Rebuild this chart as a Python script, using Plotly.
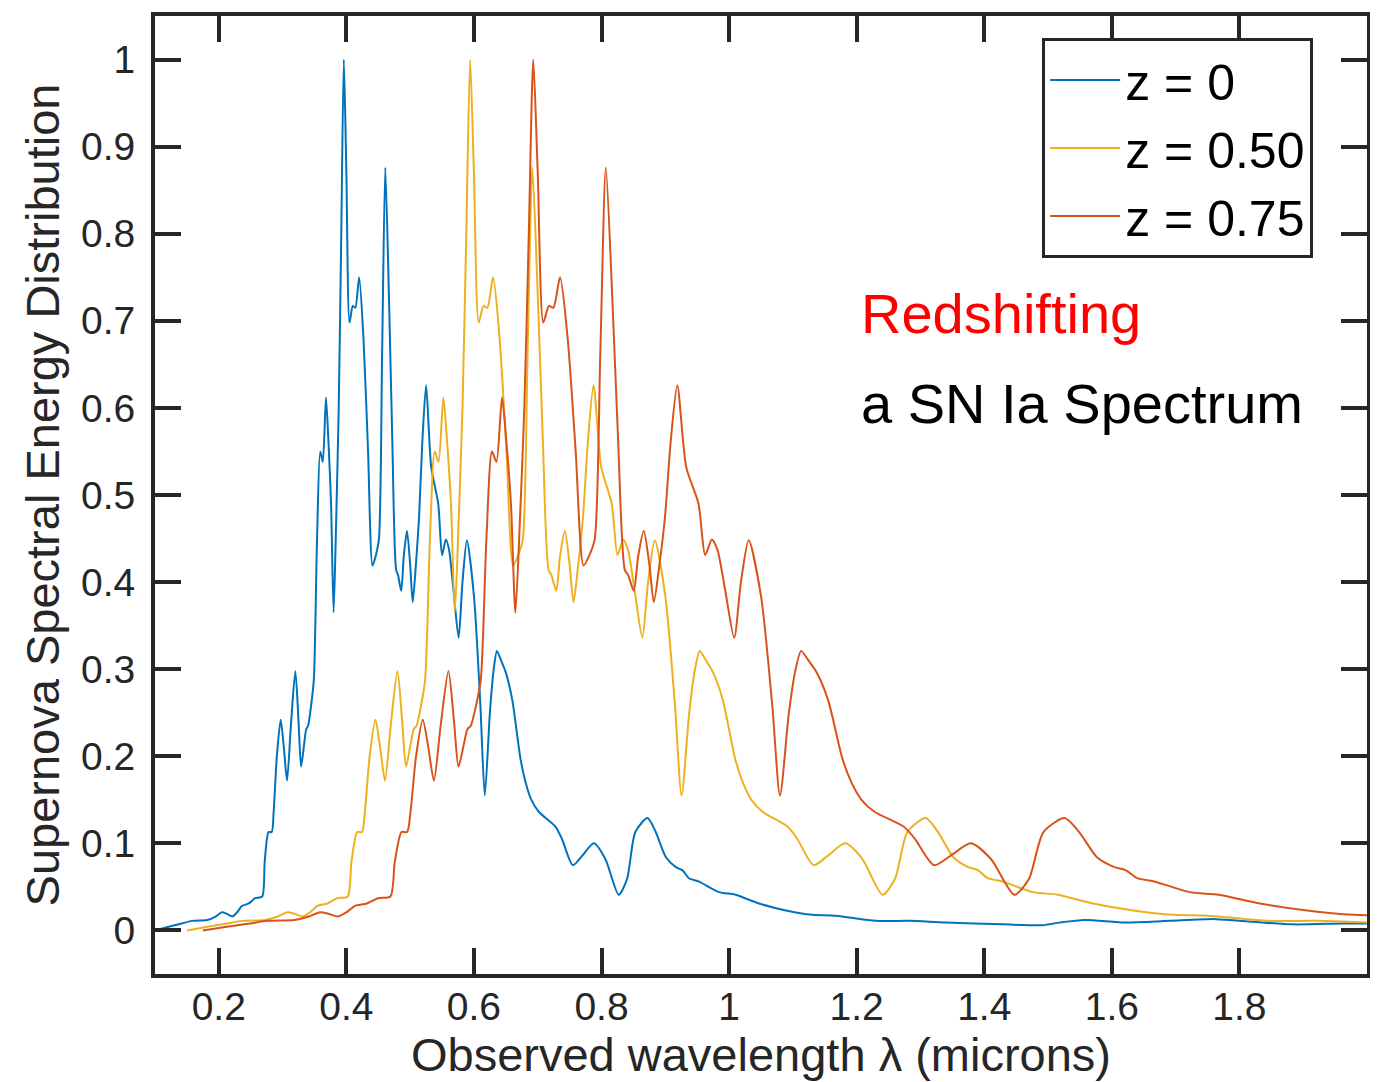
import plotly.graph_objects as go

# Rest-frame (z = 0) SN Ia spectrum
REST_WL = [0.100, 0.120, 0.142, 0.158, 0.182, 0.195, 0.205, 0.213, 0.221, 0.230,
           0.236, 0.247, 0.257, 0.268, 0.272, 0.278, 0.283, 0.286, 0.291, 0.297,
           0.302, 0.307, 0.313, 0.320, 0.325, 0.329, 0.334, 0.337, 0.340, 0.345,
           0.349, 0.354, 0.359, 0.363, 0.368, 0.372, 0.376, 0.380, 0.384, 0.388,
           0.392, 0.396, 0.400, 0.405, 0.410, 0.414, 0.420, 0.427, 0.434, 0.441,
           0.446, 0.451, 0.456, 0.461, 0.467, 0.472, 0.478, 0.481, 0.486, 0.490,
           0.495, 0.500, 0.504, 0.509, 0.514, 0.519, 0.525, 0.533, 0.544, 0.550,
           0.556, 0.561, 0.568, 0.576, 0.582, 0.589, 0.600, 0.610, 0.617, 0.625,
           0.631, 0.636, 0.642, 0.650, 0.660, 0.673, 0.681, 0.690, 0.702, 0.728,
           0.738, 0.755, 0.770, 0.788, 0.806, 0.827, 0.840, 0.853, 0.872, 0.885,
           0.901, 0.916, 0.927, 0.937, 0.953, 0.984, 1.010, 1.047, 1.089, 1.131,
           1.167, 1.230, 1.282, 1.339, 1.429, 1.491, 1.518, 1.557, 1.622, 1.690,
           1.763, 1.821, 1.884, 1.962, 2.000]
REST_FLUX = [0.000, 0.004, 0.008, 0.011, 0.012, 0.016, 0.021, 0.019, 0.016, 0.022,
             0.028, 0.031, 0.037, 0.039, 0.079, 0.113, 0.113, 0.136, 0.200, 0.242,
             0.210, 0.172, 0.235, 0.298, 0.240, 0.188, 0.215, 0.231, 0.235, 0.260,
             0.288, 0.449, 0.550, 0.538, 0.612, 0.560, 0.490, 0.365, 0.470, 0.600,
             0.800, 1.000, 0.870, 0.698, 0.717, 0.715, 0.750, 0.677, 0.550, 0.419,
             0.430, 0.449, 0.660, 0.876, 0.720, 0.563, 0.414, 0.408, 0.390, 0.430,
             0.459, 0.420, 0.377, 0.420, 0.475, 0.560, 0.626, 0.532, 0.490, 0.431,
             0.449, 0.437, 0.390, 0.336, 0.400, 0.448, 0.384, 0.260, 0.155, 0.250,
             0.300, 0.321, 0.311, 0.296, 0.265, 0.197, 0.170, 0.150, 0.136, 0.119,
             0.105, 0.075, 0.086, 0.100, 0.082, 0.041, 0.059, 0.113, 0.129, 0.113,
             0.084, 0.073, 0.069, 0.060, 0.056, 0.044, 0.041, 0.031, 0.023, 0.018,
             0.017, 0.011, 0.011, 0.009, 0.007, 0.006, 0.009, 0.012, 0.009, 0.011,
             0.013, 0.010, 0.007, 0.008, 0.008]

REDSHIFTS = [0.0, 0.50, 0.75]
LABELS = ["z = 0", "z = 0.50", "z = 0.75"]
COLORS = ["#0072BD", "#EDB120", "#D95319"]

X_TICKS = [0.2, 0.4, 0.6, 0.8, 1.0, 1.2, 1.4, 1.6, 1.8]
X_TICK_TEXT = ["0.2", "0.4", "0.6", "0.8", "1", "1.2", "1.4", "1.6", "1.8"]
Y_TICKS = [0, 0.1, 0.2, 0.3, 0.4, 0.5, 0.6, 0.7, 0.8, 0.9, 1.0]
Y_TICK_TEXT = ["0", "0.1", "0.2", "0.3", "0.4", "0.5", "0.6", "0.7", "0.8", "0.9", "1"]

FONT = "Liberation Sans, Arial, Helvetica, sans-serif"
AXC = "#262626"

fig = go.Figure()
for z, lab, col in zip(REDSHIFTS, LABELS, COLORS):
    fig.add_trace(go.Scatter(
        x=[w * (1 + z) for w in REST_WL], y=REST_FLUX, mode="lines", name=lab,
        line=dict(color=col, width=2, shape="spline", smoothing=0.7),
    ))

axis_common = dict(
    showline=True, linewidth=4, linecolor=AXC, mirror="ticks",
    ticks="inside", ticklen=26, tickwidth=4, tickcolor=AXC,
    showgrid=False, zeroline=False, automargin=False,
    tickfont=dict(family=FONT, size=39, color=AXC),
)

fig.update_layout(
    template="none",
    width=1370, height=1074,
    margin=dict(l=147, r=11, t=8, b=108, pad=0),
    paper_bgcolor="white", plot_bgcolor="white",
    font=dict(family=FONT, color=AXC),
    xaxis=dict(range=[0.1, 2.0], tickvals=X_TICKS, ticktext=X_TICK_TEXT,
               ticklabelstandoff=-5,
               title=dict(text="Observed wavelength λ (microns)",
                          font=dict(family=FONT, size=47, color=AXC), standoff=5),
               **axis_common),
    yaxis=dict(range=[-0.05, 1.05], tickvals=Y_TICKS, ticktext=Y_TICK_TEXT,
               ticklabelstandoff=8,
               title=dict(text="Supernova Spectral Energy Distribution",
                          font=dict(family=FONT, size=47, color=AXC), standoff=8),
               **axis_common),
    legend=dict(x=0.732, y=0.977, xanchor="left", yanchor="top",
                bgcolor="white", bordercolor=AXC, borderwidth=3,
                font=dict(family=FONT, size=50, color="black"),
                itemwidth=70, tracegroupgap=0,
                entrywidth=290, entrywidthmode="pixels"),
    showlegend=True,
    annotations=[
        dict(x=1.204, y=0.708, xref="x", yref="y", text="Redshifting",
             showarrow=False, xanchor="left", yanchor="middle",
             font=dict(family=FONT, size=56, color="#FF0000")),
        dict(x=1.204, y=0.605, xref="x", yref="y", text="a SN Ia Spectrum",
             showarrow=False, xanchor="left", yanchor="middle",
             font=dict(family=FONT, size=56, color="black")),
    ],
)

fig.write_html("out.html")
